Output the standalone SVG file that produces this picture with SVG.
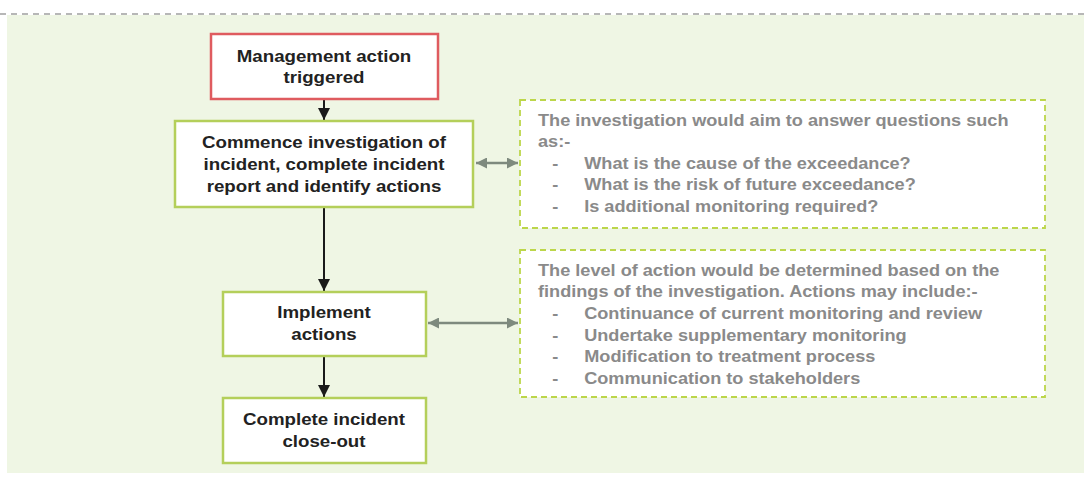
<svg xmlns="http://www.w3.org/2000/svg" width="1084" height="477" viewBox="0 0 1084 477">
<defs>
<style>
.node{fill:#ffffff;stroke:#b4cf5a;stroke-width:2.5}
.red{fill:#ffffff;stroke:#df5b5f;stroke-width:2.5}
.nt{font-family:"Liberation Sans",Arial,sans-serif;font-weight:bold;font-size:17px;fill:#222222;text-anchor:middle}
.note{fill:#ffffff;stroke:#bcd64a;stroke-width:1.8;stroke-dasharray:6 4}
.gt{font-family:"Liberation Sans",Arial,sans-serif;font-weight:bold;font-size:16.5px;fill:#8a8a8a}
.flow{stroke:#1a1a1a;stroke-width:2;fill:none}
.dbl{stroke:#7e8a7e;stroke-width:2.5;fill:none}
</style>
<marker id="ah" viewBox="0 0 10 10" refX="10" refY="5" markerWidth="6" markerHeight="6" markerUnits="strokeWidth" orient="auto">
<path d="M0,0 L10,5 L0,10 z" fill="#1a1a1a"/>
</marker>
<marker id="gh" viewBox="0 0 10 10" refX="10" refY="5" markerWidth="4.4" markerHeight="4.4" markerUnits="strokeWidth" orient="auto-start-reverse">
<path d="M0,0 L10,5 L0,10 z" fill="#7e8a7e"/>
</marker>
</defs>
<rect x="0" y="0" width="1084" height="477" fill="#ffffff"/>
<rect x="7" y="15" width="1077" height="458" fill="#eff6e4"/>
<line x1="0" y1="14" x2="1084" y2="14" stroke="#a0a0a0" stroke-width="1.5" stroke-dasharray="6 5"/>

<g id="connectors">
<line class="flow" x1="324" y1="100" x2="324" y2="120" marker-end="url(#ah)"/>
<line class="flow" x1="324" y1="208" x2="324" y2="291" marker-end="url(#ah)"/>
<line class="flow" x1="324" y1="357" x2="324" y2="397" marker-end="url(#ah)"/>
<line class="dbl" x1="476" y1="163" x2="518" y2="163" marker-start="url(#gh)" marker-end="url(#gh)"/>
<line class="dbl" x1="428" y1="323" x2="518" y2="323" marker-start="url(#gh)" marker-end="url(#gh)"/>
</g>

<g id="n1">
<rect class="red" x="211" y="34" width="227" height="65"/>
<g transform="matrix(1.1,0,0,1,-32.4,0)">
<text class="nt" x="324" y="62">Management action</text>
<text class="nt" x="324" y="83">triggered</text>
</g>
</g>

<g id="n2">
<rect class="node" x="175" y="121" width="298" height="86"/>
<g transform="matrix(1.1,0,0,1,-32.4,0)">
<text class="nt" x="324" y="148">Commence investigation of</text>
<text class="nt" x="324" y="170">incident, complete incident</text>
<text class="nt" x="324" y="192">report and identify actions</text>
</g>
</g>

<g id="n3">
<rect class="node" x="223" y="292" width="203" height="64"/>
<g transform="matrix(1.1,0,0,1,-32.4,0)">
<text class="nt" x="324" y="318">Implement</text>
<text class="nt" x="324" y="340">actions</text>
</g>
</g>

<g id="n4">
<rect class="node" x="223" y="398" width="203" height="65"/>
<g transform="matrix(1.1,0,0,1,-32.4,0)">
<text class="nt" x="324" y="425">Complete incident</text>
<text class="nt" x="324" y="447">close-out</text>
</g>
</g>

<g id="note1">
<rect class="note" x="520" y="100" width="525" height="128"/>
<g transform="matrix(1.1,0,0,1,-53.8,0)">
<text class="gt" x="538" y="126">The investigation would aim to answer questions such</text>
<text class="gt" x="538" y="147">as:-</text>
<text class="gt" x="551" y="169">-</text>
<text class="gt" x="580" y="169">What is the cause of the exceedance?</text>
<text class="gt" x="551" y="190">-</text>
<text class="gt" x="580" y="190">What is the risk of future exceedance?</text>
<text class="gt" x="551" y="212">-</text>
<text class="gt" x="580" y="212">Is additional monitoring required?</text>
</g>
</g>

<g id="note2">
<rect class="note" x="520" y="250" width="525" height="147"/>
<g transform="matrix(1.1,0,0,1,-53.8,0)">
<text class="gt" x="538" y="276">The level of action would be determined based on the</text>
<text class="gt" x="538" y="297">findings of the investigation. Actions may include:-</text>
<text class="gt" x="551" y="319">-</text>
<text class="gt" x="580" y="319">Continuance of current monitoring and review</text>
<text class="gt" x="551" y="341">-</text>
<text class="gt" x="580" y="341">Undertake supplementary monitoring</text>
<text class="gt" x="551" y="362">-</text>
<text class="gt" x="580" y="362">Modification to treatment process</text>
<text class="gt" x="551" y="384">-</text>
<text class="gt" x="580" y="384">Communication to stakeholders</text>
</g>
</g>
</svg>
